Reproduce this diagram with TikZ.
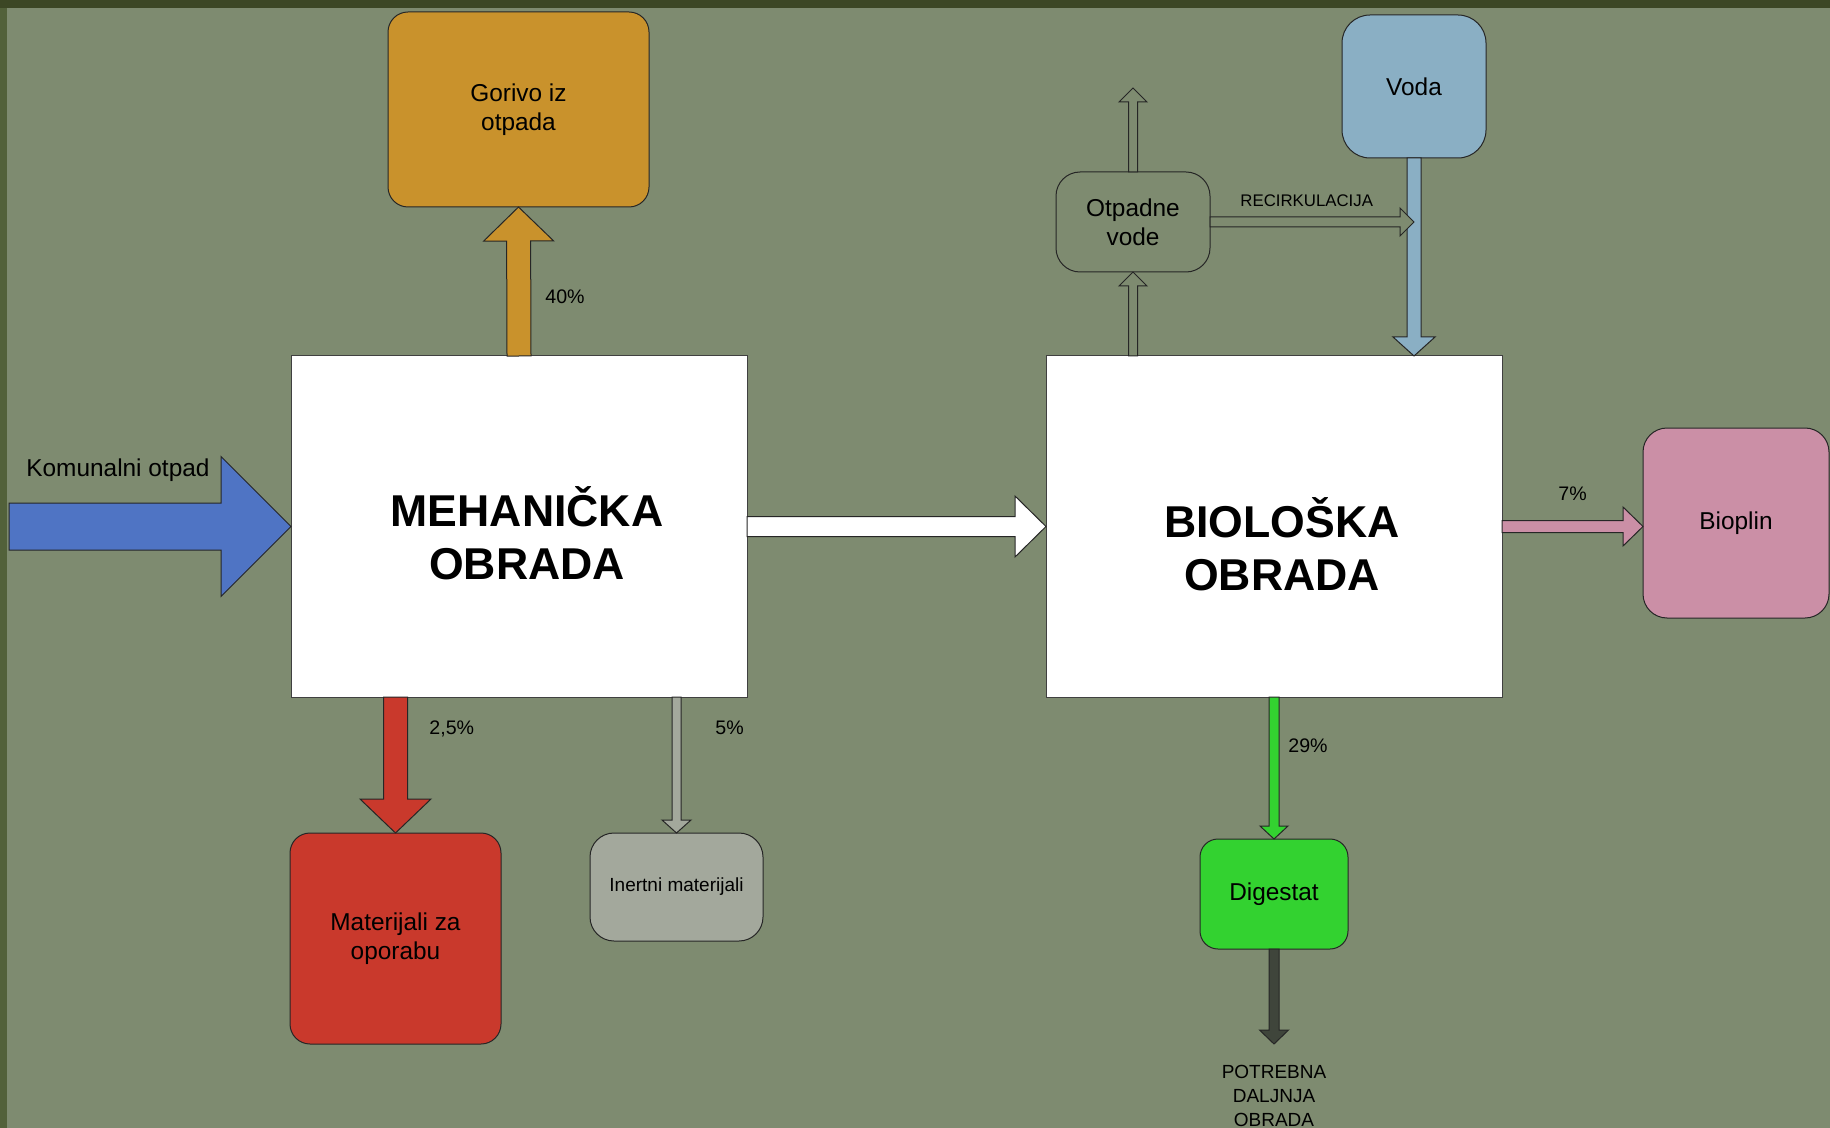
\documentclass[tikz,border=0pt]{standalone}
\usepackage{fontspec}
\setmainfont{Liberation Sans}
\usepackage{tikz}
\usetikzlibrary{calc}
\usepackage{xcolor}

\definecolor{bgcol}{HTML}{7E8B70}
\definecolor{bandtop}{HTML}{3C4725}
\definecolor{bandleft}{HTML}{52613A}
\definecolor{orangecol}{HTML}{C9922C}
\definecolor{redcol}{HTML}{C9392C}
\definecolor{graycol}{HTML}{A3A89C}
\definecolor{bluecol}{HTML}{4F74C4}
\definecolor{watercol}{HTML}{8AAFC4}
\definecolor{pinkcol}{HTML}{CB8FA6}
\definecolor{greencol}{HTML}{33D230}
\definecolor{darkcol}{HTML}{3F453B}

\newcommand{\boxfont}{\fontsize{12.2}{14.5}\selectfont}
\newcommand{\bigfont}{\fontsize{22.3}{26.5}\selectfont\bfseries}
\newcommand{\pctfont}{\fontsize{9.8}{12}\selectfont}
\newcommand{\smallfont}{\fontsize{9.5}{12}\selectfont}

% block arrow: fill, from, to, shaft half width, head half width, head length
\newcommand{\fatarrow}[6]{%
  \coordinate (hb) at ($(#3)!#6!(#2)$);
  \draw[flow, fill=#1]
    ($(#2)!#4!90:(#3)$) -- ($(hb)!#4!90:(#3)$) -- ($(hb)!#5!90:(#3)$) -- (#3)
    -- ($(hb)!#5!-90:(#3)$) -- ($(hb)!#4!-90:(#3)$) -- ($(#2)!#4!-90:(#3)$) -- cycle;}

\begin{document}
\begin{tikzpicture}[x=0.5pt, y=-0.5pt,
    flow/.style={draw=black!85, line width=0.5pt},
    box/.style={draw=black!85, line width=0.5pt, inner sep=0pt, outer sep=0pt, align=center, font=\boxfont},
    stage/.style={draw=black!75, fill=white, line width=0.5pt, inner sep=0pt, outer sep=0pt,
                  minimum width=228pt, minimum height=170.5pt},
    pct/.style={anchor=base west, inner sep=0pt, font=\pctfont}]

  % Background
  \useasboundingbox (0,0) rectangle (1830,1128);
  \fill[bandleft] (0,0) rectangle (1830,1128);
  \fill[bandtop] (0,0) rectangle (1830,8);
  \fill[bgcol] (7,8) rectangle (1830,1128);

  % Stages
  \node[stage] (mech) at (519,526.5) {};
  \node[stage] (bio) at (1274,526.5) {};
  \node[align=center, font=\bigfont, inner sep=0pt] (mechtxt) at (527,533) {MEHANIČKA\\OBRADA};
  \node[align=center, font=\bigfont, inner sep=0pt] (biotxt) at (1282,544) {BIOLOŠKA\\OBRADA};

  % Outputs
  \node[box, fill=orangecol, rounded corners=10pt, minimum width=130.5pt, minimum height=97.5pt] (gorivo) at (518.5,109.5) {Gorivo iz\\otpada};
  \node[box, fill=redcol, rounded corners=10pt, minimum width=105.5pt, minimum height=105.5pt] (mat) at (395.5,938.5) {Materijali za\\oporabu};
  \node[box, fill=graycol, rounded corners=12pt, minimum width=86.5pt, minimum height=54pt, font=\smallfont] (inert) at (676.5,887) {Inertni materijali};
  \node[box, fill=bgcol, rounded corners=12pt, minimum width=77pt, minimum height=50pt] (otp) at (1133,222) {Otpadne\\vode};
  \node[box, fill=watercol, rounded corners=14pt, minimum width=72pt, minimum height=71.5pt] (voda) at (1414,86.5) {Voda};
  \node[box, fill=pinkcol, rounded corners=12pt, minimum width=93pt, minimum height=95pt] (bioplin) at (1736,523) {Bioplin};
  \node[box, fill=greencol, rounded corners=9pt, minimum width=74pt, minimum height=55pt] (dig) at (1274,894) {Digestat};

  % Free ends
  \coordinate (ulaz) at (9,526.5);
  \coordinate (van) at (1133,88);
  \coordinate (dalje) at (1274,1044);
  \coordinate (redtop) at (mat.north |- mech.south);
  \coordinate (graytop) at (inert.north |- mech.south);
  \coordinate (pinkend) at (bio.east -| bioplin.west);
  \coordinate (otpbot) at (otp.south |- bio.north);
  \coordinate (vodaend) at (voda.south |- bio.north);
  \coordinate (recend) at (otp.east -| voda.south);

  % Flows
  \fatarrow{bluecol}{ulaz}{mech.west}{11.75pt}{35pt}{35pt}
  \fatarrow{white}{mech.east}{bio.west}{5pt}{15.25pt}{15.5pt}
  \fatarrow{orangecol}{mech.north}{gorivo.south}{6pt}{17.5pt}{17pt}
  \fatarrow{redcol}{redtop}{mat.north}{6pt}{17.75pt}{17pt}
  \fatarrow{graycol}{graytop}{inert.north}{2.25pt}{7.25pt}{6.5pt}
  \fatarrow{watercol}{voda.south}{vodaend}{3.5pt}{10.5pt}{9.5pt}
  \fatarrow{bgcol}{otpbot}{otp.south}{2.25pt}{7pt}{7pt}
  \fatarrow{bgcol}{otp.north}{van}{2.25pt}{7pt}{7pt}
  \fatarrow{bgcol}{otp.east}{recend}{2.5pt}{7pt}{7pt}
  \fatarrow{pinkcol}{bio.east}{pinkend}{3pt}{9.75pt}{10pt}
  \fatarrow{greencol}{bio.south}{dig.north}{2.5pt}{7pt}{6.5pt}
  \fatarrow{darkcol}{dig.south}{dalje}{2.5pt}{7.25pt}{7pt}

  % Labels
  \node[anchor=base west, inner sep=0pt, font=\boxfont] (komunalni) at (26,476) {Komunalni otpad};
  \node[pct] (p40) at (545,304) {40\%};
  \node[pct] (p25) at (429,734) {2,5\%};
  \node[pct] (p5) at (715,734) {5\%};
  \node[pct] (p29) at (1288,752) {29\%};
  \node[pct] (p7) at (1558,500) {7\%};
  \node[anchor=base west, inner sep=0pt, font=\fontsize{8.4}{10}\selectfont] (recirk) at (1240,207) {RECIRKULACIJA};
  \node[anchor=north, inner sep=0pt, align=center, font=\smallfont] (potrebna) at (1274,1065) {POTREBNA\\DALJNJA\\OBRADA};

\end{tikzpicture}
\end{document}
